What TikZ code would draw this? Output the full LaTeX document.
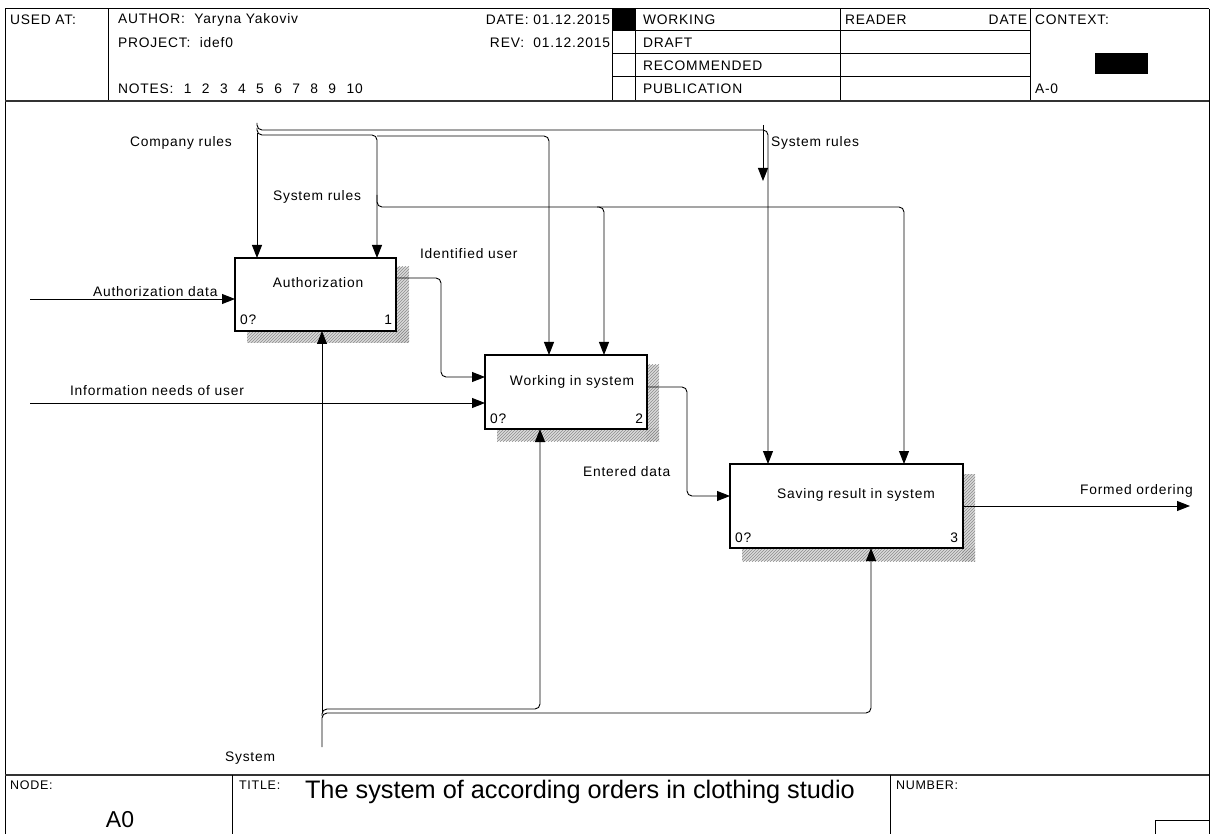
\documentclass[tikz,border=0pt]{standalone}
\usepackage{fontspec}
\setmainfont{Liberation Sans}[LetterSpace=6]
\usetikzlibrary{arrows.meta,patterns}
\newcommand{\nsp}{\hspace{10.4pt}}
\begin{document}
\begin{tikzpicture}[x=1pt,y=-1pt,
  every node/.style={inner sep=0pt,outer sep=0pt,font=\fontsize{13.8}{16}\selectfont},
  frameline/.style={line width=1pt,draw=black},
  thickline/.style={line width=1.8pt,draw=black!80},
  fbox/.style={draw,line width=1.1pt,fill=white,anchor=north west},
  shadowfill/.style={fill=black!14},
  shadowpat/.style={pattern=north east lines,pattern color=black!45},
  arr/.style={line width=0.9pt,-{Triangle[length=13pt,width=10pt]}},
  lbl/.style={anchor=west},
  hdr/.style={anchor=west},
  small/.style={anchor=west,font=\fontsize{12.5}{14}\selectfont}]
\useasboundingbox (0,0) rectangle (1211,834);
\fill[white] (0,0) rectangle (1211,834);
% ---------- frame and header ----------
\draw[frameline] (5,9) -- (1209,9);
\draw[frameline] (5,9) -- (5,834);
\draw[frameline] (1209,9) -- (1209,834);
\draw[frameline] (108,9) -- (108,101);
\draw[frameline] (612,9) -- (612,101);
\draw[frameline] (635,9) -- (635,101);
\draw[frameline] (840,9) -- (840,101);
\draw[frameline] (1030,9) -- (1030,101);
\foreach \yy in {31,54,77} \draw[frameline] (612,\yy) -- (1030,\yy);
\fill (612,9) rectangle (635,31);
\fill (1095,53) rectangle (1148,74);
\draw[thickline] (5,101) -- (1209,101);
\node[hdr] (usedat) at (10,20) {USED AT:};
\node[hdr] (author) at (118,20) {AUTHOR:\ \ Yaryna Yakoviv};
\node[hdr] (project) at (118,43) {PROJECT:\ \ idef0};
\node[hdr] (notes) at (118,89) {NOTES:\nsp 1\nsp 2\nsp 3\nsp 4\nsp 5\nsp 6\nsp 7\nsp 8\nsp 9\nsp 10};
\node[anchor=east] (date) at (610,20) {DATE: 01.12.2015};
\node[anchor=east] (rev) at (610,43) {REV:\ \ 01.12.2015};
\node[hdr] (working) at (643,20) {WORKING};
\node[hdr] (draft) at (643,43) {DRAFT};
\node[hdr] (recom) at (643,66) {RECOMMENDED};
\node[hdr] (publ) at (643,89) {PUBLICATION};
\node[hdr] (reader) at (845,20) {READER};
\node[anchor=east] (rdate) at (1027,20) {DATE};
\node[hdr] (context) at (1035,20) {CONTEXT:};
\node[hdr] (ctxa) at (1035,89) {A-0};
% ---------- footer ----------
\draw[thickline] (5,775) -- (1209,775);
\draw[frameline] (232,775) -- (232,834);
\draw[frameline] (890,775) -- (890,834);
\draw[frameline] (1155,834) -- (1155,820) -- (1209,820);
\node[small] (nodelbl) at (10,785) {NODE:};
\node[font=\fontsize{23}{26}\selectfont\addfontfeature{LetterSpace=0}] (nodeval) at (120,820) {A0};
\node[small] (titlelbl) at (239,785) {TITLE:};
\node[anchor=west,font=\fontsize{25.3}{28}\selectfont\addfontfeature{LetterSpace=0}] (title) at (305,792) {The system of according orders in clothing studio};
\node[small] (numlbl) at (896,785) {NUMBER:};
% ---------- shadows ----------
\fill[shadowfill] (396,267) rectangle (409,343);
\fill[shadowfill] (247,330) rectangle (409,343);
\path[shadowpat] (396,267) rectangle (409,343);
\path[shadowpat] (247,330) rectangle (409,343);
\fill[shadowfill] (646,365) rectangle (659,441);
\fill[shadowfill] (497,429) rectangle (659,441);
\path[shadowpat] (646,365) rectangle (659,441);
\path[shadowpat] (497,429) rectangle (659,441);
\fill[shadowfill] (962,474) rectangle (975,561);
\fill[shadowfill] (742,548) rectangle (975,561);
\path[shadowpat] (962,474) rectangle (975,561);
\path[shadowpat] (742,548) rectangle (975,561);
% ---------- boxes ----------
\node[fbox,minimum width=161pt,minimum height=73pt] (b1) at (235,258) {};
\node[fbox,minimum width=162pt,minimum height=74pt] (b2) at (485,355) {};
\node[fbox,minimum width=233pt,minimum height=84pt] (b3) at (730,464) {};
\node (t1) at (318,283) {Authorization};
\node[anchor=west] (c1) at (240,320) {0?};
\node[anchor=east] (n1) at (392,320) {1};
\node (t2) at (572,382) {Working in system};
\node[anchor=west] (c2) at (490,419) {0?};
\node[anchor=east] (n2) at (643,419) {2};
\node (t3) at (856,495) {Saving result in system};
\node[anchor=west] (c3) at (735,538) {0?};
\node[anchor=east] (n3) at (958,538) {3};
% ---------- free ends ----------
\coordinate (cr1) at (257,123);
\coordinate (cr2) at (257,128);
\coordinate (cr3) at (257,133);
\coordinate (sr1) at (377,136);
\coordinate (sr2) at (377,195);
\coordinate (sr3) at (597,207);
\coordinate (srr) at (763,125);
\coordinate (srrend) at (763,181);
\coordinate (ad) at (30,299);
\coordinate (inu) at (30,403);
\coordinate (fo) at (1190,506);
\coordinate (sys1) at (322,747);
\coordinate (sys2) at (322,716);
\coordinate (sys3) at (322,712);
% ---------- connectors ----------
\draw[arr,rounded corners=5pt] (cr1) -- (257,130) -- (768,130) -- (b3.north -| 768,0);
\draw[arr,rounded corners=5pt] (cr2) -- (257,135) -- (377,135) -- (b1.north -| 377,0);
\draw[arr] (cr3) -- (b1.north -| 257,0);
\draw[arr,rounded corners=5pt] (sr1) -- (549,136) -- (b2.north -| 549,0);
\draw[arr,rounded corners=5pt] (sr2) -- (377,207) -- (904,207) -- (b3.north -| 904,0);
\draw[arr,rounded corners=5pt] (sr3) -- (604,207) -- (b2.north -| 604,0);
\draw[arr] (srr) -- (srrend);
\draw[arr] (ad) -- (b1.west |- 0,299);
\draw[arr] (inu) -- (b2.west |- 0,403);
\draw[arr,rounded corners=5pt] (b1.east |- 0,278) -- (441,278) -- (441,377) -- (b2.west |- 0,377);
\draw[arr,rounded corners=5pt] (b2.east |- 0,387) -- (687,387) -- (687,496) -- (b3.west |- 0,496);
\draw[arr] (b3.east |- 0,506) -- (fo);
\draw[arr,rounded corners=5pt] (sys1) -- (322,713) -- (871,713) -- (b3.south -| 871,0);
\draw[arr,rounded corners=5pt] (sys2) -- (322,709) -- (540,709) -- (b2.south -| 540,0);
\draw[arr] (sys3) -- (b1.south -| 322,0);
% ---------- labels ----------
\node[lbl] (l1) at (130,143) {Company rules};
\node[lbl] (l2) at (273,197) {System rules};
\node[lbl] (l3) at (771,143) {System rules};
\node[lbl] (l4) at (93,292) {Authorization data};
\node[lbl] (l5) at (420,254) {Identified user};
\node[lbl] (l6) at (70,391) {Information needs of user};
\node[lbl] (l7) at (583,472) {Entered data};
\node[lbl] (l8) at (1080,491) {Formed ordering};
\node[lbl] (l9) at (225,758) {System};
\end{tikzpicture}
\end{document}
